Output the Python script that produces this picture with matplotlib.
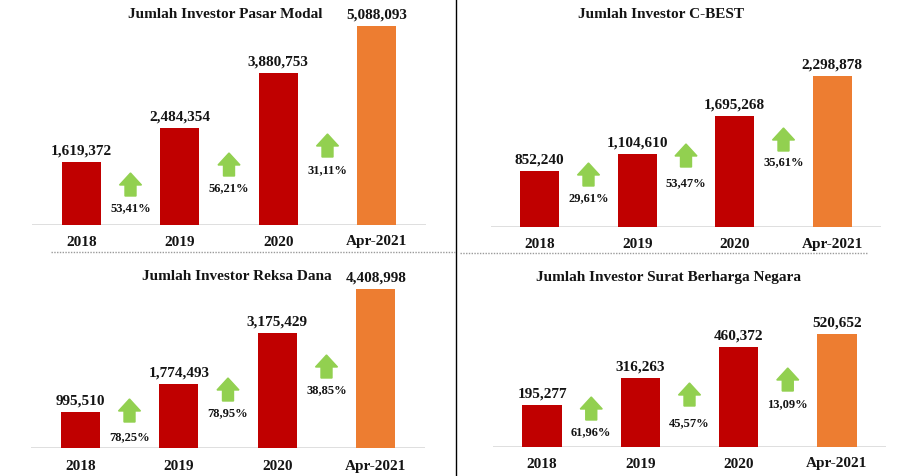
import matplotlib.pyplot as plt
from matplotlib.patches import Polygon
from matplotlib.lines import Line2D
from matplotlib.transforms import ScaledTranslation

plt.rcParams['font.family'] = ['Liberation Serif', 'DejaVu Serif']

categories = ['2018', '2019', '2020', 'Apr-2021']

pasar_modal = [1619372, 2484354, 3880753, 5088093]
pasar_modal_growth = ['53,41%', '56,21%', '31,11%']
cbest = [852240, 1104610, 1695268, 2298878]
cbest_growth = ['29,61%', '53,47%', '35,61%']
reksa_dana = [995510, 1774493, 3175429, 4408998]
reksa_dana_growth = ['78,25%', '78,95%', '38,85%']
sbn = [195277, 316263, 460372, 520652]
sbn_growth = ['61,96%', '45,57%', '13,09%']

titles = ['Jumlah Investor Pasar Modal', 'Jumlah Investor C-BEST',
          'Jumlah Investor Reksa Dana', 'Jumlah Investor Surat Berharga Negara']

W, H = 919, 477
fig = plt.figure(figsize=(W / 100, H / 100), dpi=100)


def fx(x):
    return x / W


def fy(y):
    return 1 - y / H


RED = '#C00000'
ORANGE = '#ED7D31'
GREEN = '#92D050'
TXT = '#141414'

# layout in pixels: left, right, baseline, px height of the tallest bar,
# title centre, arrow bottoms / percent text (px above baseline), category offset
layout = [
    dict(box=(32, 426, 226, 199), title=(225, 15), arrows=[29, 49, 68], texts=[18, 38, 56], cat=16),
    dict(box=(491, 881, 228, 151), title=(661, 15), arrows=[41, 60, 76], texts=[30, 45, 66], cat=17),
    dict(box=(31, 425, 449, 159), title=(237, 277), arrows=[26, 47, 70], texts=[12, 36, 59], cat=18),
    dict(box=(493, 886, 448, 113), title=(668, 277), arrows=[27, 41, 56], texts=[16, 25, 44], cat=16),
]
series = [pasar_modal, cbest, reksa_dana, sbn]
growths = [pasar_modal_growth, cbest_growth, reksa_dana_growth, sbn_growth]

# arrow outline in px (centre bottom at 0,0)
arrow_px = [(-5.5, 0), (5.5, 0), (5.5, 11), (11, 11), (0, 23), (-11, 11), (-5.5, 11)]

for vals, growth, title, lay in zip(series, growths, titles, layout):
    left, right, base, hmax = lay['box']
    top = base - hmax - 20
    ax = fig.add_axes([fx(left), fy(base), (right - left) / W, (base - top) / H])
    ax.set_xlim(-0.5, 3.5)
    ax.set_ylim(0, max(vals) * (base - top) / hmax)
    ax.axis('off')
    ax.bar(range(4), vals, width=0.4, color=[RED, RED, RED, ORANGE], zorder=2)
    ax.axhline(0, color='#d9d9d9', lw=1.2, zorder=1)

    for i, v in enumerate(vals):
        ax.annotate(f'{v:,}', (i, v), xytext=(0, 12), textcoords='offset pixels',
                    ha='center', va='center', fontsize=11, fontweight='bold',
                    color=TXT, annotation_clip=False)
        ax.annotate(categories[i], (i, 0), xytext=(0, -lay['cat']), textcoords='offset pixels',
                    ha='center', va='center', fontsize=11, fontweight='bold',
                    color=TXT, annotation_clip=False)

    for j, g in enumerate(growth):
        xc = j + 0.5
        b = lay['arrows'][j]
        verts = [(x / 100, (y + b) / 100) for x, y in arrow_px]
        tr = fig.dpi_scale_trans + ScaledTranslation(xc, 0, ax.transData)
        ax.add_patch(Polygon(verts, closed=True, transform=tr, color=GREEN, clip_on=False, zorder=3))
        ax.annotate(g, (xc, 0), xytext=(0, lay['texts'][j]), textcoords='offset pixels',
                    ha='center', va='center', fontsize=9, fontweight='bold',
                    color=TXT, annotation_clip=False)

    tx, ty = lay['title']
    fig.text(fx(tx), fy(ty), title, ha='center', va='center', fontsize=11,
             fontweight='bold', color=TXT)

# separators
fig.add_artist(Line2D([fx(456), fx(456)], [0, 1], color='black', lw=1))
fig.add_artist(Line2D([fx(51), fx(455)], [fy(253), fy(253)], color='#9a9a9a', lw=1, ls=(0, (1, 1))))
fig.add_artist(Line2D([fx(460), fx(867)], [fy(254), fy(254)], color='#9a9a9a', lw=1, ls=(0, (1, 1))))

fig.savefig('out.png', dpi=100)
